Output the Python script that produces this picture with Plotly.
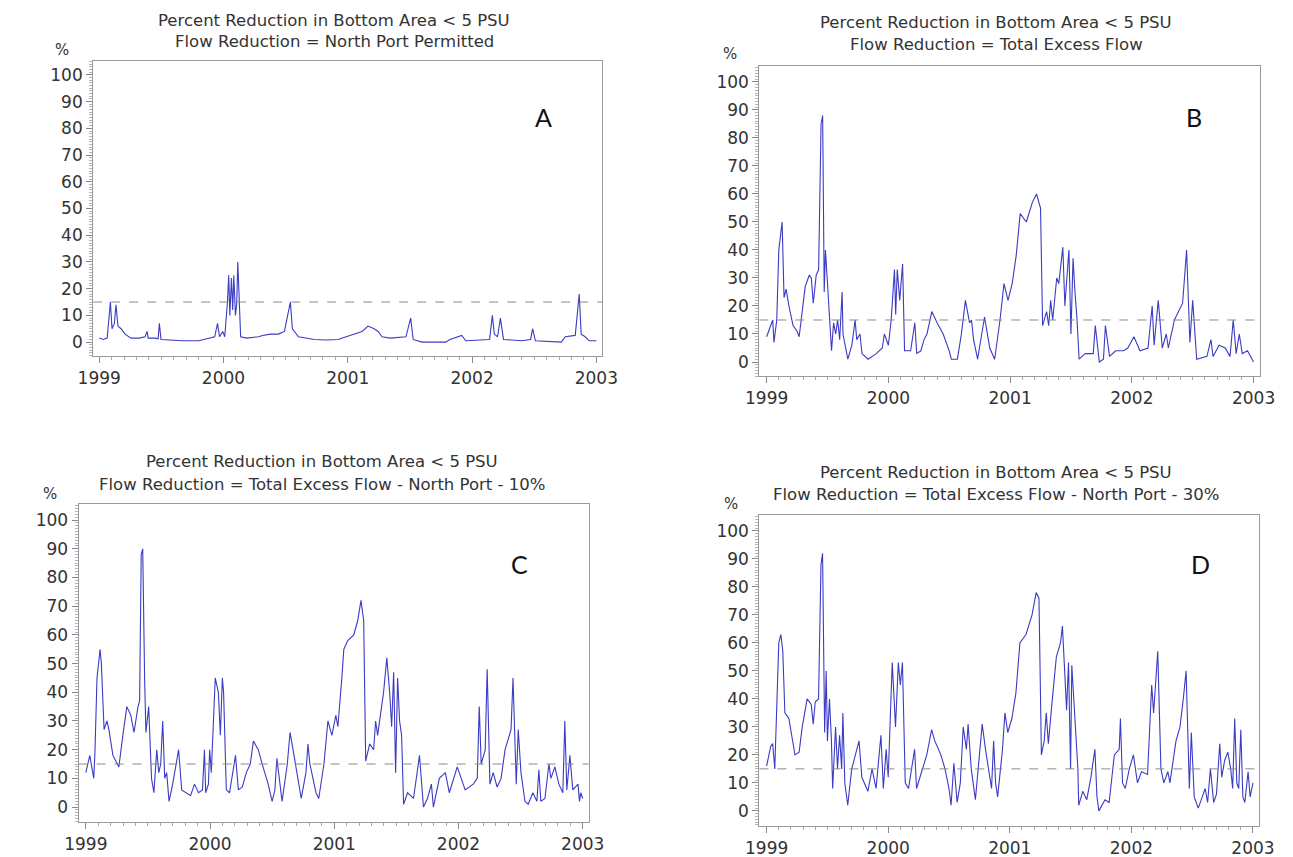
import plotly.graph_objects as go

W, H = 1293, 857

# ---------------- data (decimal year, percent) ----------------
a_year = [1999.000, 1999.032, 1999.064, 1999.090, 1999.103, 1999.122, 1999.135, 1999.151, 1999.176, 1999.208,
          1999.256, 1999.321, 1999.369, 1999.385, 1999.394, 1999.449, 1999.474, 1999.484, 1999.497, 1999.577,
          1999.673, 1999.801, 1999.897, 1999.929, 1999.952, 1999.968, 1999.994, 2000.010, 2000.032, 2000.042,
          2000.051, 2000.064, 2000.074, 2000.083, 2000.096, 2000.106, 2000.115, 2000.138, 2000.186, 2000.282,
          2000.314, 2000.378, 2000.442, 2000.490, 2000.538, 2000.554, 2000.603, 2000.667, 2000.731, 2000.827,
          2000.923, 2000.987, 2001.051, 2001.115, 2001.163, 2001.212, 2001.244, 2001.276, 2001.340, 2001.468,
          2001.506, 2001.526, 2001.596, 2001.788, 2001.821, 2001.885, 2001.917, 2001.949, 2002.141, 2002.163,
          2002.179, 2002.205, 2002.228, 2002.253, 2002.397, 2002.471, 2002.487, 2002.510, 2002.718, 2002.750,
          2002.830, 2002.862, 2002.878, 2002.910, 2002.942, 2003.000]
a_pct = [1.5, 1.0, 1.5, 15, 5, 7, 14, 6, 5, 3,
         1.5, 1.5, 2, 4, 1.5, 1.5, 1.2, 7, 1, 0.8,
         0.5, 0.5, 1.5, 2, 7, 2, 4, 2, 15, 25,
         10, 24, 12, 25, 10, 14, 30, 2, 1.5, 2,
         2.5, 3, 3, 4, 15, 5, 2, 1.5, 1, 0.8,
         1, 2, 3, 4, 6, 5, 4, 2, 1.5, 2,
         9, 1, 0, 0, 1, 2, 2.5, 0.5, 1, 10,
         3, 2, 9, 1, 0.5, 1, 5, 0.5, 0, 2,
         2.5, 18, 3, 2, 0.5, 0.5]

b_year = [1999.000, 1999.033, 1999.050, 1999.060, 1999.083, 1999.100, 1999.117, 1999.127, 1999.143, 1999.160,
          1999.183, 1999.217, 1999.250, 1999.267, 1999.317, 1999.350, 1999.367, 1999.383, 1999.407, 1999.427,
          1999.447, 1999.460, 1999.473, 1999.483, 1999.500, 1999.517, 1999.533, 1999.550, 1999.567, 1999.583,
          1999.600, 1999.620, 1999.627, 1999.667, 1999.700, 1999.727, 1999.740, 1999.767, 1999.783, 1999.833,
          1999.900, 1999.950, 1999.967, 2000.000, 2000.023, 2000.050, 2000.060, 2000.073, 2000.093, 2000.117,
          2000.133, 2000.183, 2000.217, 2000.233, 2000.267, 2000.293, 2000.317, 2000.357, 2000.400, 2000.450,
          2000.500, 2000.517, 2000.567, 2000.600, 2000.633, 2000.667, 2000.683, 2000.700, 2000.733, 2000.767,
          2000.790, 2000.833, 2000.873, 2000.917, 2000.950, 2000.983, 2001.017, 2001.050, 2001.083, 2001.133,
          2001.183, 2001.217, 2001.250, 2001.267, 2001.300, 2001.317, 2001.333, 2001.350, 2001.383, 2001.400,
          2001.433, 2001.450, 2001.483, 2001.500, 2001.517, 2001.533, 2001.550, 2001.567, 2001.617, 2001.683,
          2001.700, 2001.733, 2001.767, 2001.783, 2001.817, 2001.867, 2001.933, 2001.967, 2002.017, 2002.067,
          2002.133, 2002.167, 2002.183, 2002.217, 2002.250, 2002.283, 2002.300, 2002.350, 2002.417, 2002.450,
          2002.477, 2002.500, 2002.533, 2002.617, 2002.650, 2002.667, 2002.717, 2002.767, 2002.807, 2002.833,
          2002.857, 2002.883, 2002.907, 2002.950, 2003.000]
b_pct = [9, 13, 15, 7, 15, 40, 46, 50, 23, 26,
         20, 13, 11, 9, 27, 31, 30, 21, 31, 33,
         85, 88, 25, 40, 28, 15, 4, 14, 10, 15,
         8, 25, 10, 1, 6, 15, 8, 10, 3, 1,
         3, 5, 10, 6, 15, 33, 17, 33, 22, 35,
         4, 4, 14, 3, 4, 8, 10, 18, 14, 10,
         4, 1, 1, 10, 22, 14, 15, 8, 1, 10,
         16, 5, 1, 15, 28, 22, 28, 38, 53, 50,
         57, 60, 55, 13, 18, 13, 22, 15, 30, 28,
         41, 20, 40, 10, 37, 25, 15, 1, 3, 3,
         13, 0, 1, 13, 2, 4, 4, 5, 9, 4,
         5, 20, 6, 22, 5, 10, 5, 15, 21, 40,
         7, 22, 1, 2, 8, 2, 6, 5, 2, 15,
         3, 10, 3, 4, 0]

c_year = [1999.000, 1999.032, 1999.064, 1999.074, 1999.090, 1999.115, 1999.125, 1999.147, 1999.170, 1999.186,
          1999.218, 1999.266, 1999.298, 1999.330, 1999.362, 1999.388, 1999.420, 1999.433, 1999.446, 1999.458,
          1999.474, 1999.484, 1999.506, 1999.529, 1999.548, 1999.571, 1999.587, 1999.603, 1999.619, 1999.635,
          1999.651, 1999.670, 1999.699, 1999.715, 1999.747, 1999.772, 1999.811, 1999.843, 1999.875, 1999.907,
          1999.939, 1999.955, 1999.965, 1999.987, 1999.997, 2000.010, 2000.042, 2000.067, 2000.083, 2000.099,
          2000.109, 2000.131, 2000.157, 2000.189, 2000.205, 2000.228, 2000.260, 2000.292, 2000.324, 2000.349,
          2000.388, 2000.420, 2000.468, 2000.500, 2000.522, 2000.538, 2000.580, 2000.622, 2000.644, 2000.676,
          2000.708, 2000.734, 2000.772, 2000.788, 2000.804, 2000.853, 2000.875, 2000.917, 2000.949, 2000.981,
          2001.013, 2001.029, 2001.061, 2001.077, 2001.109, 2001.157, 2001.189, 2001.215, 2001.237, 2001.253,
          2001.285, 2001.317, 2001.333, 2001.349, 2001.381, 2001.397, 2001.423, 2001.446, 2001.462, 2001.478,
          2001.494, 2001.510, 2001.526, 2001.542, 2001.558, 2001.590, 2001.638, 2001.686, 2001.718, 2001.750,
          2001.782, 2001.798, 2001.846, 2001.894, 2001.926, 2001.990, 2002.022, 2002.054, 2002.119, 2002.151,
          2002.167, 2002.183, 2002.215, 2002.231, 2002.253, 2002.279, 2002.311, 2002.343, 2002.375, 2002.423,
          2002.439, 2002.465, 2002.481, 2002.503, 2002.535, 2002.561, 2002.599, 2002.631, 2002.647, 2002.663,
          2002.696, 2002.728, 2002.744, 2002.776, 2002.808, 2002.840, 2002.856, 2002.872, 2002.897, 2002.920,
          2002.962, 2002.974, 2002.984, 2003.000]
c_pct = [12, 18, 10, 20, 45, 55, 50, 27, 30, 27,
         18, 14, 25, 35, 32, 26, 35, 37, 88, 90,
         43, 26, 35, 10, 5, 20, 12, 15, 30, 10,
         12, 2, 8, 12, 20, 6, 5, 4, 8, 5,
         6, 20, 5, 8, 20, 12, 45, 40, 25, 45,
         40, 6, 5, 14, 18, 6, 7, 12, 15, 23,
         20, 15, 8, 2, 6, 17, 2, 15, 26, 18,
         10, 3, 12, 22, 15, 5, 3, 15, 30, 25,
         32, 28, 45, 55, 58, 60, 65, 72, 65, 16,
         22, 20, 30, 25, 35, 40, 52, 40, 28, 47,
         12, 45, 30, 25, 1, 5, 3, 18, 0, 3,
         8, 0, 10, 12, 5, 14, 10, 6, 8, 10,
         35, 15, 20, 48, 8, 12, 7, 10, 20, 27,
         45, 8, 27, 12, 2, 1, 5, 2, 13, 2,
         3, 15, 10, 14, 8, 5, 30, 6, 18, 6,
         8, 2, 5, 3]

d_year = [1999.000, 1999.033, 1999.050, 1999.067, 1999.100, 1999.117, 1999.133, 1999.150, 1999.183, 1999.217,
          1999.233, 1999.267, 1999.293, 1999.333, 1999.367, 1999.383, 1999.400, 1999.427, 1999.447, 1999.460,
          1999.477, 1999.490, 1999.500, 1999.517, 1999.533, 1999.543, 1999.567, 1999.583, 1999.600, 1999.617,
          1999.627, 1999.643, 1999.667, 1999.700, 1999.733, 1999.760, 1999.783, 1999.833, 1999.867, 1999.900,
          1999.940, 1999.960, 1999.983, 2000.000, 2000.033, 2000.060, 2000.083, 2000.100, 2000.117, 2000.140,
          2000.167, 2000.200, 2000.217, 2000.233, 2000.283, 2000.317, 2000.357, 2000.383, 2000.433, 2000.467,
          2000.500, 2000.517, 2000.540, 2000.567, 2000.593, 2000.617, 2000.643, 2000.657, 2000.683, 2000.717,
          2000.773, 2000.800, 2000.850, 2000.867, 2000.883, 2000.900, 2000.940, 2000.960, 2000.983, 2001.017,
          2001.050, 2001.083, 2001.133, 2001.183, 2001.217, 2001.240, 2001.260, 2001.283, 2001.300, 2001.317,
          2001.350, 2001.383, 2001.417, 2001.433, 2001.467, 2001.483, 2001.500, 2001.510, 2001.533, 2001.560,
          2001.567, 2001.600, 2001.633, 2001.667, 2001.700, 2001.717, 2001.733, 2001.783, 2001.817, 2001.833,
          2001.860, 2001.900, 2001.910, 2001.927, 2001.950, 2001.983, 2002.017, 2002.050, 2002.083, 2002.133,
          2002.167, 2002.183, 2002.217, 2002.243, 2002.267, 2002.300, 2002.317, 2002.367, 2002.400, 2002.427,
          2002.450, 2002.477, 2002.493, 2002.517, 2002.550, 2002.583, 2002.607, 2002.627, 2002.650, 2002.677,
          2002.700, 2002.727, 2002.743, 2002.767, 2002.793, 2002.817, 2002.833, 2002.850, 2002.867, 2002.883,
          2002.900, 2002.917, 2002.933, 2002.960, 2002.977, 2003.000]
d_pct = [16, 23, 24, 15, 60, 63, 57, 35, 33, 25,
         20, 21, 30, 40, 38, 31, 39, 40, 88, 92,
         28, 50, 25, 40, 25, 8, 30, 15, 27, 15,
         35, 10, 2, 15, 20, 25, 12, 7, 15, 8,
         27, 8, 22, 12, 53, 30, 53, 45, 53, 10,
         8, 18, 22, 8, 15, 20, 29, 25, 20, 15,
         8, 2, 17, 3, 10, 30, 22, 31, 15, 4,
         31, 22, 8, 25, 10, 5, 22, 35, 28, 33,
         42, 60, 63, 70, 78, 76, 20, 25, 35, 24,
         40, 55, 60, 66, 36, 53, 15, 52, 35, 15,
         2, 7, 4, 12, 22, 5, 0, 4, 3, 10,
         20, 22, 33, 10, 8, 15, 20, 10, 14, 13,
         45, 35, 57, 15, 10, 14, 10, 25, 30, 40,
         50, 8, 28, 5, 1, 5, 8, 3, 15, 3,
         6, 24, 12, 18, 21, 15, 8, 33, 10, 8,
         29, 5, 3, 14, 5, 10]

panel_letters = ["A", "B", "C", "D"]
title_line1 = "Percent Reduction in Bottom Area < 5 PSU"
title_line2 = ["Flow Reduction = North Port Permitted",
               "Flow Reduction = Total Excess Flow",
               "Flow Reduction = Total Excess Flow - North Port - 10%",
               "Flow Reduction = Total Excess Flow - North Port - 30%"]
threshold = 15
year_ticks = [1999, 2000, 2001, 2002, 2003]
pct_ticks = [0, 10, 20, 30, 40, 50, 60, 70, 80, 90, 100]

series = [(a_year, a_pct), (b_year, b_pct), (c_year, c_pct), (d_year, d_pct)]

# ---------------- layout geometry (pixels) ----------------
# plot boxes: left, right, top, bottom
boxes = [(71, 593, 53, 348), (754, 1267, 58, 368), (56, 579, 496, 814), (754, 1266, 507, 818)]
xranges = [[1998.952, 2003.048], [1998.94, 2003.05], [1998.942, 2003.048], [1998.94, 2003.047]]
yranges = [[-5.2, 105.2], [-5.0, 105.7], [-5.2, 105.6], [-5.4, 105.7]]
title_pos = [(318, 12, 33), (997, 15, 36), (306, 454, 476), (997, 464, 486)]
pct_pos = [(39, 42), (724, 46), (27, 486), (725, 496)]
letter_pos = [(533, 109), (1200, 109), (508, 556), (1206, 556)]

TXT = "DejaVu Sans, Liberation Sans, Arial, sans-serif"

def px(x):
    return x / W

def py(y):
    return 1 - y / H

fig = go.Figure()
layout = dict(width=W, height=H, margin=dict(l=0, r=0, t=0, b=0),
              paper_bgcolor="white", plot_bgcolor="white", showlegend=False,
              font=dict(family=TXT, color="#333333"))
annotations = []
shapes = []

line_col = "#3b3bc4"
axis_col = "#9a9a9a"

for i, (xs, ys) in enumerate(series):
    n = i + 1
    xa = f"x{n}" if n > 1 else "x"
    ya = f"y{n}" if n > 1 else "y"
    fig.add_trace(go.Scatter(x=xs, y=ys, mode="lines", xaxis=xa, yaxis=ya,
                             line=dict(color=line_col, width=1.1), hoverinfo="skip"))
    l, r, t, b = boxes[i]
    xk = "xaxis" if n == 1 else f"xaxis{n}"
    yk = "yaxis" if n == 1 else f"yaxis{n}"
    layout[xk] = dict(domain=[px(l), px(r)], range=xranges[i], anchor=ya,
                      tickmode="array", tickvals=year_ticks, ticktext=[str(v) for v in year_ticks],
                      ticks="outside", ticklen=6, tickcolor="#888888", tickwidth=1,
                      minor=dict(dtick=0.1, tick0=1999, ticks="outside", ticklen=3, tickcolor="#aaaaaa"),
                      showline=True, linecolor=axis_col, linewidth=1.2, mirror=True,
                      showgrid=False, zeroline=False,
                      tickfont=dict(size=17, color="#333333", family=TXT))
    layout[yk] = dict(domain=[py(b), py(t)], range=yranges[i], anchor=xa,
                      tickmode="array", tickvals=pct_ticks,
                      ticks="outside", ticklen=6, tickcolor="#888888", tickwidth=1,
                      minor=dict(dtick=1, tick0=0, ticks="outside", ticklen=3, tickcolor="#b5b5b5"),
                      showline=True, linecolor=axis_col, linewidth=1.2, mirror=True,
                      showgrid=False, zeroline=False,
                      tickfont=dict(size=17, color="#333333", family=TXT))
    # threshold dashed line
    shapes.append(dict(type="line", xref=f"{xa} domain", yref=ya, x0=0, x1=1,
                       y0=threshold, y1=threshold,
                       line=dict(color="#8a8a8a", width=1, dash="dash")))
    tx, ty1, ty2 = title_pos[i]
    annotations.append(dict(text=title_line1, x=px(tx), y=py(ty1), xref="paper", yref="paper",
                            showarrow=False, xanchor="center", yanchor="middle",
                            font=dict(size=16.5, color="#333333", family=TXT)))
    annotations.append(dict(text=title_line2[i], x=px(tx), y=py(ty2), xref="paper", yref="paper",
                            showarrow=False, xanchor="center", yanchor="middle",
                            font=dict(size=16.5, color="#333333", family=TXT)))
    cx, cy = pct_pos[i]
    annotations.append(dict(text="%", x=px(cx), y=py(cy), xref="paper", yref="paper",
                            showarrow=False, xanchor="center", yanchor="middle",
                            font=dict(size=15, color="#333333", family=TXT)))
    lx, ly = letter_pos[i]
    annotations.append(dict(text=panel_letters[i], x=px(lx), y=py(ly), xref="paper", yref="paper",
                            showarrow=False, xanchor="center", yanchor="middle",
                            font=dict(size=25, color="#111111", family="Lato, Open Sans, sans-serif")))

layout["annotations"] = annotations
layout["shapes"] = shapes
fig.update_layout(**layout)
fig.write_html("out.html")
